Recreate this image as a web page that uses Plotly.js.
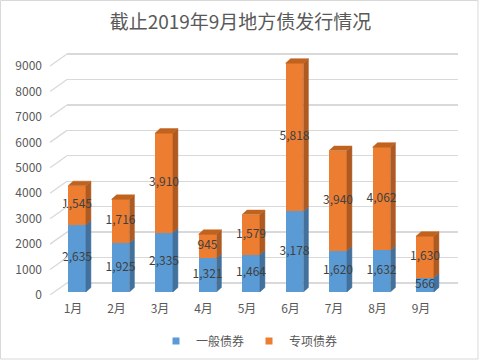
<!DOCTYPE html>
<html>
<head>
<meta charset="utf-8">
<script src="https://cdn.plot.ly/plotly-3.0.1.min.js"></script>
<style>html,body{margin:0;padding:0;background:#fff;}#chart{width:481px;height:360px;}</style>
</head>
<body>
<div id="chart"></div>
<script>
const months = ['1月','2月','3月','4月','5月','6月','7月','8月','9月'];
const general = [2635, 1925, 2335, 1321, 1464, 3178, 1620, 1632, 566];
const special = [1545, 1716, 3910, 945, 1579, 5818, 3940, 4062, 1630];
const yTicks = [0, 1000, 2000, 3000, 4000, 5000, 6000, 7000, 8000, 9000];
const seriesNames = ['一般债券', '专项债券'];

const W = 481, H = 360;
const FONT = '"Noto Sans CJK SC", "Noto Sans", sans-serif';
const idx = months.map((_, i) => i);
const totals = general.map((g, i) => g + special[i]);

// 3D depth illusion (in data units of bar subplot)
const half = 0.205, dx = 0.115, dy = 177;
function sidePolys(bases, tops) {
  const xs = [], ys = [];
  idx.forEach(i => {
    const xr = i + half;
    xs.push(xr, xr + dx, xr + dx, xr, xr, null);
    ys.push(bases[i], bases[i] + dy, tops[i] + dy, tops[i], bases[i], null);
  });
  return {xs, ys};
}
function topPolys(tops) {
  const xs = [], ys = [];
  idx.forEach(i => {
    xs.push(i - half, i + half, i + half + dx, i - half + dx, i - half, null);
    ys.push(tops[i], tops[i], tops[i] + dy, tops[i] + dy, tops[i], null);
  });
  return {xs, ys};
}
const zeros = general.map(() => 0);
const sBlue = sidePolys(zeros, general);
const sOrange = sidePolys(general, totals);
const tOrange = topPolys(totals);

function fillTrace(p, color) {
  return {x: p.xs, y: p.ys, xaxis: 'x2', yaxis: 'y2', type: 'scatter', mode: 'lines',
    fill: 'toself', fillcolor: color, line: {color: color, width: 0.5},
    hoverinfo: 'skip', showlegend: false};
}

// slant lines from front plane to back wall
const slX = [], slY = [];
yTicks.forEach(v => { slX.push(0, 1, null); slY.push(v, v + 472, null); });

const traces = [
  // back wall (subplot xy)
  {x: [0], y: [0], xaxis: 'x', yaxis: 'y', type: 'scatter', mode: 'none', hoverinfo: 'skip', showlegend: false},
  // bars (subplot x2y2)
  {x: idx, y: general, xaxis: 'x2', yaxis: 'y2', type: 'bar', width: 0.41, name: seriesNames[0],
    marker: {color: '#5B9BD5', line: {width: 0}}, showlegend: false, hoverinfo: 'skip'},
  {x: idx, y: special, xaxis: 'x2', yaxis: 'y2', type: 'bar', width: 0.41, name: seriesNames[1],
    marker: {color: '#ED7D31', line: {width: 0}}, showlegend: false, hoverinfo: 'skip'},
  fillTrace(sBlue, '#41719C'),
  fillTrace(sOrange, '#AE5A21'),
  fillTrace(tOrange, '#C0631F'),
  // data labels
  {x: idx, y: general.map(g => g / 2), text: general.map(v => v.toLocaleString('en-US')),
    xaxis: 'x2', yaxis: 'y2', type: 'scatter', mode: 'text', cliponaxis: false,
    textfont: {family: FONT, size: 12, color: '#404040'}, hoverinfo: 'skip', showlegend: false},
  {x: idx, y: special.map((s, i) => general[i] + s / 2), text: special.map(v => v.toLocaleString('en-US')),
    xaxis: 'x2', yaxis: 'y2', type: 'scatter', mode: 'text', cliponaxis: false,
    textfont: {family: FONT, size: 12, color: '#404040'}, hoverinfo: 'skip', showlegend: false},
  // front plane slant lines + y labels (subplot x3y3)
  {x: slX, y: slY, xaxis: 'x3', yaxis: 'y3', type: 'scatter', mode: 'lines',
    line: {color: '#D9D9D9', width: 1.3}, hoverinfo: 'skip', showlegend: false},
  // legend entries
  {x: [null], y: [null], xaxis: 'x2', yaxis: 'y2', type: 'scatter', mode: 'markers', name: seriesNames[0],
    marker: {symbol: 'square', size: 7, color: '#5B9BD5'}},
  {x: [null], y: [null], xaxis: 'x2', yaxis: 'y2', type: 'scatter', mode: 'markers', name: seriesNames[1],
    marker: {symbol: 'square', size: 7, color: '#ED7D31'}}
];

const pxX = p => p / W;
const pxY = p => 1 - p / H;
const per = 25.44 / 1000; // px per data unit

const layout = {
  width: W, height: H,
  margin: {l: 0, r: 0, t: 0, b: 0},
  paper_bgcolor: '#fff', plot_bgcolor: 'rgba(0,0,0,0)',
  font: {family: FONT, size: 12, color: '#595959'},
  title: {text: '截止2019年9月地方债发行情况', font: {family: FONT, size: 19, color: '#595959'},
    x: 0.5, xanchor: 'center', y: pxY(22), yanchor: 'middle'},
  barmode: 'stack',
  showlegend: true,
  legend: {orientation: 'h', traceorder: 'normal', x: pxX(156), xanchor: 'left', y: pxY(341), yanchor: 'middle',
    font: {family: FONT, size: 12, color: '#595959'}, itemwidth: 30, tracegroupgap: 0,
    entrywidth: 48, entrywidthmode: 'pixels', bgcolor: 'rgba(0,0,0,0)'},
  // back wall
  xaxis: {domain: [pxX(67), pxX(458)], range: [0, 1], visible: false, fixedrange: true, anchor: 'y'},
  yaxis: {domain: [pxY(283 + 100 * per), pxY(54 - 100 * per)], range: [-100, 9100], anchor: 'x',
    tickvals: yTicks, showticklabels: false, showgrid: true, gridcolor: '#D9D9D9', gridwidth: 1.3,
    zeroline: false, showline: false, ticks: ''},
  // bars
  xaxis2: {domain: [pxX(55.25), pxX(446.75)], range: [-0.5, 8.5], anchor: 'y2',
    tickvals: idx, ticktext: months, showgrid: false, zeroline: false, showline: false, ticks: '',
    ticklabelstandoff: 8, ticklabelshift: -4, tickfont: {family: FONT, size: 12, color: '#595959'}},
  yaxis2: {domain: [pxY(292), pxY(292 - 9500 * per)], range: [0, 9500], anchor: 'x2', visible: false},
  // front plane
  xaxis3: {domain: [pxX(50), pxX(67)], range: [0, 1], anchor: 'y3', visible: false},
  yaxis3: {domain: [pxY(295), pxY(295 - 9500 * per)], range: [0, 9500], anchor: 'x3',
    tickvals: yTicks, ticktext: yTicks.map(String), showgrid: false, zeroline: false, showline: false,
    ticks: '', ticklabelstandoff: 7, tickfont: {family: FONT, size: 12, color: '#595959'}},
  shapes: [{type: 'rect', xref: 'paper', yref: 'paper', x0: pxX(0.5), x1: pxX(478), y0: pxY(359), y1: pxY(0.5),
    line: {color: '#D9D9D9', width: 1}, fillcolor: 'rgba(0,0,0,0)', layer: 'below'}]
};

Plotly.newPlot('chart', traces, layout, {displayModeBar: false, staticPlot: true});
</script>
</body>
</html>
